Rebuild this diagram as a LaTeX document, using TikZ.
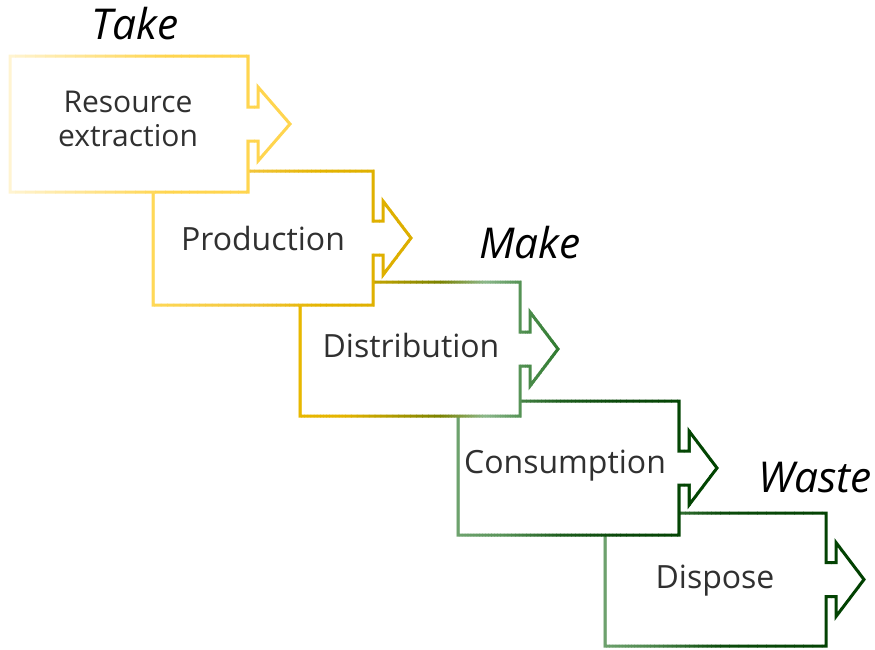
\documentclass[tikz,border=0pt]{standalone}
\usepackage{fontspec}
\setmainfont{Open Sans}
\definecolor{labelgray}{HTML}{303030}
% stroke colour stops
\definecolor{paleY}{HTML}{FFF5D5}
\definecolor{sunY}{HTML}{FFD54F}
\definecolor{warmY}{HTML}{FFD958}
\definecolor{midY}{HTML}{F2C63C}
\definecolor{goldA}{HTML}{E4B400}
\definecolor{goldB}{HTML}{DCAE00}
\definecolor{goldC}{HTML}{E8B800}
\definecolor{olive}{HTML}{7A8200}
\definecolor{sage}{HTML}{8CB88C}
\definecolor{leaf}{HTML}{4E8E4E}
\definecolor{leafDark}{HTML}{2E7A2E}
\definecolor{mint}{HTML}{70A470}
\definecolor{fern}{HTML}{5A955A}
\definecolor{pine}{HTML}{1E5E1E}
\definecolor{forest}{HTML}{0A480A}
\definecolor{deepG}{HTML}{004400}
\definecolor{fernB}{HTML}{4E884E}
\definecolor{forestB}{HTML}{0C4C0C}
\definecolor{deepGB}{HTML}{004000}

% box with a notched arrow on its right side: left, top, right, bottom, tip offset
\newcommand\flowpath[5]{%
  (#1,#2) -- (#3,#2) -- (#3,{(#2+#4)/2-17}) -- ({#3+10},{(#2+#4)/2-17})
  -- ({#3+10},{(#2+#4)/2-37}) -- ({#3+#5},{(#2+#4)/2})
  -- ({#3+10},{(#2+#4)/2+37}) -- ({#3+10},{(#2+#4)/2+17})
  -- (#3,{(#2+#4)/2+17}) -- (#3,#4) -- (#1,#4) -- cycle}

% one piece of a horizontal stroke gradient, drawn in clipped strips
\newcommand\gseg[4]{%
  \foreach \k in {0,...,15}{%
    \pgfmathsetmacro\xl{#1+(#2-#1)*\k/16}
    \pgfmathsetmacro\xr{#1+(#2-#1)*(\k+1)/16+0.6}
    \pgfmathtruncatemacro\pp{100*(\k+0.5)/16}
    \begin{scope}
      \clip (\xl,-20) rectangle (\xr,700);
      \draw[flowline, draw=#4!\pp!#3] \curpath;
    \end{scope}
  }}

\tikzset{
  flowline/.style={line width=3pt, line join=miter},
  steplabel/.style={font=\fontsize{32}{34}\selectfont, text=labelgray, align=center, inner sep=0pt, anchor=base},
  phaselabel/.style={font=\fontsize{42.5}{46}\selectfont\itshape, text=black, inner sep=0pt, anchor=base}
}

\begin{document}
\begin{tikzpicture}[x=1pt,y=-1pt]
\useasboundingbox (0,0) rectangle (875,649);

% Dispose
\def\curpath{\flowpath{605}{513}{826}{646}{38}}
\fill[white] \curpath;
\gseg{600}{650}{mint}{fernB}
\gseg{650}{720}{fernB}{forestB}
\gseg{720}{868}{forestB}{deepGB}

% Consumption
\def\curpath{\flowpath{458}{401}{679}{535}{38}}
\fill[white] \curpath;
\gseg{453}{500}{mint}{fern}
\gseg{500}{560}{fern}{pine}
\gseg{560}{620}{pine}{forest}
\gseg{620}{722}{forest}{deepG}

% Distribution
\def\curpath{\flowpath{300}{282}{520}{416}{38}}
\fill[white] \curpath;
\gseg{295}{345}{goldC}{goldA}
\gseg{345}{440}{goldA}{olive}
\gseg{440}{485}{olive}{sage}
\gseg{485}{525}{sage}{leaf}
\gseg{525}{562}{leaf}{leafDark}

% Production
\def\curpath{\flowpath{153}{171}{373}{305}{38}}
\fill[white] \curpath;
\gseg{148}{250}{warmY}{midY}
\gseg{250}{320}{midY}{goldA}
\gseg{320}{415}{goldA}{goldB}

% Resource extraction
\def\curpath{\flowpath{10}{56}{248}{192}{42}}
\fill[white] \curpath;
\gseg{5}{165}{paleY}{sunY}
\gseg{165}{295}{sunY}{sunY}

% step labels
\node[steplabel, font=\fontsize{30}{34}\selectfont] (extract) at (128,146) {Resource\\extraction};
\node[steplabel] (produce) at (263,250) {Production};
\node[steplabel] (distribute) at (411,357) {Distribution};
\node[steplabel] (consume) at (565,473) {Consumption};
\node[steplabel] (dispose) at (715,588) {Dispose};

% phase labels
\node[phaselabel] (take) at (135,39) {Take};
\node[phaselabel] (make) at (530,258) {Make};
\node[phaselabel] (waste) at (815,492) {Waste};
\end{tikzpicture}
\end{document}
